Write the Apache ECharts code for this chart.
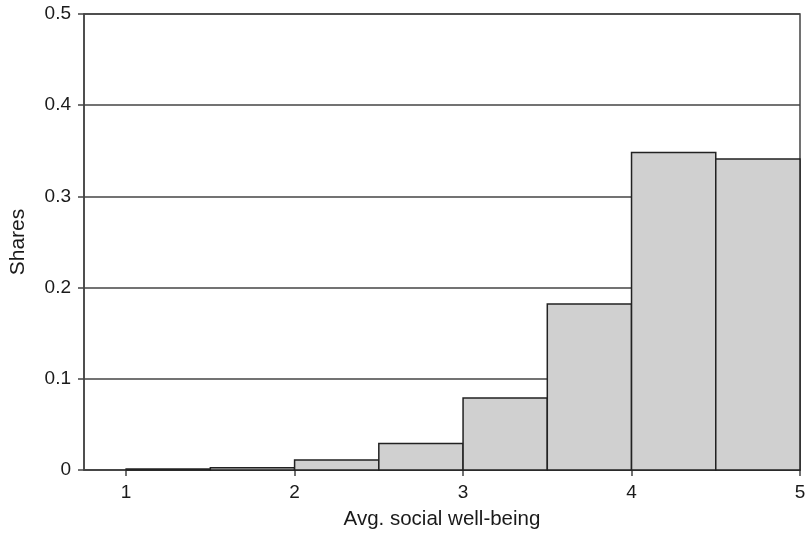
<!DOCTYPE html>
<html>
<head>
<meta charset="utf-8">
<script src="https://cdn.jsdelivr.net/npm/echarts@6/dist/echarts.min.js"></script>
<style>
  html, body { margin: 0; padding: 0; background: #fff; }
  #chart { width: 809px; height: 536px; }
</style>
</head>
<body>
<div id="chart"></div>
<script>
// Histogram bins of average social well-being (width 0.5)
const binStart = [1.0, 1.5, 2.0, 2.5, 3.0, 3.5, 4.0, 4.5];
const binEnd   = [1.5, 2.0, 2.5, 3.0, 3.5, 4.0, 4.5, 5.0];
const shares   = [0.001, 0.0025, 0.011, 0.029, 0.079, 0.182, 0.348, 0.341];
const xTicks   = [1, 2, 3, 4, 5];
const yTicks   = [0, 0.1, 0.2, 0.3, 0.4, 0.5];

const data = binStart.map((s, i) => [s, binEnd[i], shares[i]]);
const font = 'Liberation Sans, Arial, sans-serif';
const ink = '#1a1a1a';
const lineCol = '#444';

const chart = echarts.init(document.getElementById('chart'));
chart.setOption({
  animation: false,
  grid: {
    left: 84, right: 9, top: 14, bottom: 66,
    show: true, borderColor: lineCol, borderWidth: 1.5, backgroundColor: 'transparent'
  },
  xAxis: {
    type: 'value', min: 0.75, max: 5,
    name: 'Avg. social well-being', nameLocation: 'middle', nameGap: 39,
    nameTextStyle: { fontFamily: font, fontSize: 20.5, color: ink },
    axisLine: { show: true, lineStyle: { color: lineCol, width: 1.5 } },
    axisTick: { show: true, length: 6, inside: false, customValues: xTicks, lineStyle: { color: lineCol, width: 1.5 } },
    axisLabel: { customValues: xTicks, fontFamily: font, fontSize: 19, color: ink, margin: 13 },
    splitLine: { show: false }
  },
  yAxis: {
    type: 'value', min: yTicks[0], max: yTicks[yTicks.length - 1], interval: 0.1,
    name: 'Shares', nameLocation: 'middle', nameGap: 55, nameRotate: 90,
    nameTextStyle: { fontFamily: font, fontSize: 21, color: ink },
    axisLine: { show: true, lineStyle: { color: lineCol, width: 1.5 } },
    axisTick: { show: true, length: 6, lineStyle: { color: lineCol, width: 1.5 } },
    axisLabel: { fontFamily: font, fontSize: 19, color: ink, margin: 13,
      formatter: v => (Math.round(v * 10) / 10).toString() },
    splitLine: { show: true, lineStyle: { color: lineCol, width: 1.5 } }
  },
  series: [{
    type: 'custom',
    data: data,
    encode: { x: [0, 1], y: 2 },
    renderItem: function (params, api) {
      const p0 = api.coord([api.value(0), 0]);
      const p1 = api.coord([api.value(1), api.value(2)]);
      return {
        type: 'rect',
        shape: { x: p0[0], y: p1[1], width: p1[0] - p0[0], height: p0[1] - p1[1] },
        style: { fill: '#d0d0d0', stroke: '#222', lineWidth: 1.5 }
      };
    }
  }]
});
</script>
</body>
</html>
